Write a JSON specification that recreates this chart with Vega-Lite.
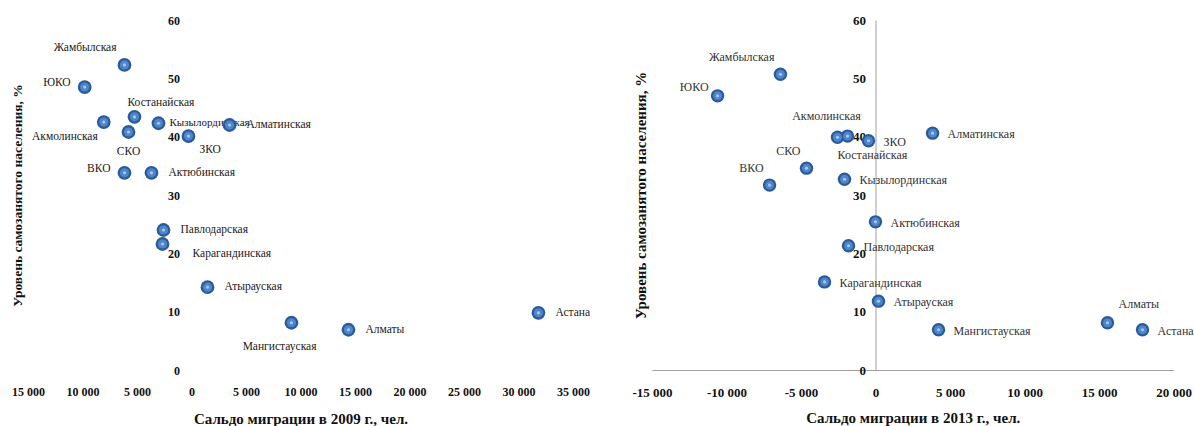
{
  "$schema": "https://vega.github.io/schema/vega-lite/v6.json",
  "padding": {"left": 10, "top": 14, "right": 0, "bottom": 0},
  "background": "white",
  "spacing": 79,
  "bounds": "flush",
  "config": {
    "font": "Liberation Serif",
    "view": {"stroke": null},
    "axis": {"labelFont": "Liberation Serif", "titleFont": "Liberation Serif", "grid": false, "ticks": false, "labelFlush": false, "labelColor": "#111", "titleColor": "#111"},
    "text": {"font": "Liberation Serif", "fontSize": 12, "color": "#1a1a1a"}
  },
  "datasets": {
    "d2009": [
      {"region": "Жамбылская", "x": -6150, "y": 52.3},
      {"region": "ЮКО", "x": -9800, "y": 48.5},
      {"region": "Акмолинская", "x": -8050, "y": 42.5},
      {"region": "Костанайская", "x": -5230, "y": 43.4},
      {"region": "СКО", "x": -5780, "y": 40.8},
      {"region": "Кызылординская", "x": -3030, "y": 42.3},
      {"region": "ЗКО", "x": -280, "y": 40.1},
      {"region": "Алматинская", "x": 3490, "y": 42.0},
      {"region": "ВКО", "x": -6150, "y": 33.8},
      {"region": "Актюбинская", "x": -3670, "y": 33.8},
      {"region": "Павлодарская", "x": -2570, "y": 24.0},
      {"region": "Карагандинская", "x": -2660, "y": 21.6},
      {"region": "Атырауская", "x": 1470, "y": 14.2},
      {"region": "Мангистауская", "x": 9170, "y": 8.1},
      {"region": "Алматы", "x": 14400, "y": 6.9},
      {"region": "Астана", "x": 31830, "y": 9.8}
    ],
    "d2013": [
      {"region": "Жамбылская", "x": -6380, "y": 50.7},
      {"region": "ЮКО", "x": -10600, "y": 47.0},
      {"region": "Акмолинская", "x": -2550, "y": 39.9},
      {"region": "Костанайская", "x": -1880, "y": 40.1},
      {"region": "ЗКО", "x": -470, "y": 39.3},
      {"region": "СКО", "x": -4630, "y": 34.6},
      {"region": "ВКО", "x": -7110, "y": 31.7},
      {"region": "Кызылординская", "x": -2080, "y": 32.7},
      {"region": "Актюбинская", "x": 0, "y": 25.4},
      {"region": "Павлодарская", "x": -1810, "y": 21.3},
      {"region": "Карагандинская", "x": -3420, "y": 15.1},
      {"region": "Атырауская", "x": 200, "y": 11.8},
      {"region": "Алматинская", "x": 3830, "y": 40.6},
      {"region": "Мангистауская", "x": 4230, "y": 6.9},
      {"region": "Алматы", "x": 15570, "y": 8.1},
      {"region": "Астана", "x": 17920, "y": 6.9}
    ]
  },
  "hconcat": [
    {
      "width": 545,
      "height": 350,
      "data": {"name": "d2009"},
      "encoding": {
        "x": {"field": "x", "type": "quantitative", "scale": {"domain": [-15000, 35000], "nice": false, "zero": false},
          "axis": {"values": [-15000, -10000, -5000, 0, 5000, 10000, 15000, 20000, 25000, 30000, 35000], "domain": false, "labelFontSize": 12, "labelFontWeight": "bold", "labelPadding": 16, "labelExpr": "replace(format(abs(datum.value), ',d'), ',', ' ')", "title": "Сальдо миграции в 2009 г., чел.", "titleFontSize": 15, "titleFontWeight": "bold", "titlePadding": 14}},
        "y": {"field": "y", "type": "quantitative", "scale": {"domain": [0, 60], "nice": false},
          "axis": {"values": [0, 10, 20, 30, 40, 50, 60], "domain": false, "offset": -163.5, "labelPadding": 12, "labelFontSize": 12, "labelFontWeight": "bold", "title": "Уровень самозанятого населения, %", "titleFontSize": 13.5, "titleFontWeight": "bold", "titleX": -174, "titleY": 175, "titleAngle": -90, "titleAlign": "center", "titleBaseline": "middle"}}
      },
      "layer": [
        {"transform": [{"filter": {"field": "region", "oneOf": ["Алматинская", "Актюбинская", "Павлодарская", "Атырауская", "Алматы", "Астана"]}}],
          "mark": {"type": "text", "align": "left", "dx": 17, "fontSize": 11.5}, "encoding": {"text": {"field": "region"}}},
        {"transform": [{"filter": {"field": "region", "oneOf": ["Кызылординская"]}}],
          "mark": {"type": "text", "align": "left", "dx": 11, "fontSize": 11}, "encoding": {"text": {"field": "region"}}},
        {"transform": [{"filter": {"field": "region", "oneOf": ["Жамбылская"]}}],
          "mark": {"type": "text", "align": "right", "dx": -8, "dy": -17, "fontSize": 11.5}, "encoding": {"text": {"field": "region"}}},
        {"transform": [{"filter": {"field": "region", "oneOf": ["ЮКО", "ВКО"]}}],
          "mark": {"type": "text", "align": "right", "dx": -14, "dy": -4, "fontSize": 11.5}, "encoding": {"text": {"field": "region"}}},
        {"transform": [{"filter": {"field": "region", "oneOf": ["Акмолинская"]}}],
          "mark": {"type": "text", "align": "right", "dx": -6, "dy": 15, "fontSize": 11.5}, "encoding": {"text": {"field": "region"}}},
        {"transform": [{"filter": {"field": "region", "oneOf": ["Костанайская"]}}],
          "mark": {"type": "text", "align": "left", "dx": -7, "dy": -14, "fontSize": 11.5}, "encoding": {"text": {"field": "region"}}},
        {"transform": [{"filter": {"field": "region", "oneOf": ["СКО"]}}],
          "mark": {"type": "text", "align": "center", "dy": 20, "fontSize": 11.5}, "encoding": {"text": {"field": "region"}}},
        {"transform": [{"filter": {"field": "region", "oneOf": ["Мангистауская"]}}],
          "mark": {"type": "text", "align": "right", "dx": 25, "dy": 24, "fontSize": 11.5}, "encoding": {"text": {"field": "region"}}},
        {"transform": [{"filter": {"field": "region", "oneOf": ["ЗКО"]}}],
          "mark": {"type": "text", "align": "left", "dx": 11, "dy": 14, "fontSize": 11.5}, "encoding": {"text": {"field": "region"}}},
        {"transform": [{"filter": {"field": "region", "oneOf": ["Карагандинская"]}}],
          "mark": {"type": "text", "align": "left", "dx": 30, "dy": 10, "fontSize": 11.5}, "encoding": {"text": {"field": "region"}}},
        {"mark": {"type": "circle", "size": 190, "color": "#2b5a98", "opacity": 1}},
        {"mark": {"type": "circle", "size": 85, "color": "#4f86cb", "opacity": 1}},
        {"mark": {"type": "circle", "size": 10, "color": "#a9c8ee", "opacity": 1}}
      ]
    },
    {
      "width": 521.5,
      "height": 350,
      "data": {"name": "d2013"},
      "encoding": {
        "x": {"field": "x", "type": "quantitative", "scale": {"domain": [-15000, 20000], "nice": false, "zero": false},
          "axis": {"values": [-15000, -10000, -5000, 0, 5000, 10000, 15000, 20000], "domain": true, "domainColor": "#a0a0a0", "labelFontSize": 13, "labelFontWeight": "bold", "labelPadding": 16, "labelExpr": "(datum.value < 0 ? '-' : '') + replace(format(abs(datum.value), ',d'), ',', ' ')", "title": "Сальдо миграции в 2013 г., чел.", "titleFontSize": 15, "titleFontWeight": "bold", "titlePadding": 11}},
        "y": {"field": "y", "type": "quantitative", "scale": {"domain": [0, 60], "nice": false},
          "axis": {"values": [0, 10, 20, 30, 40, 50, 60], "domain": true, "domainColor": "#a0a0a0", "offset": -223.5, "labelPadding": 10, "labelFontSize": 13, "labelFontWeight": "bold", "title": "Уровень самозанятого населения, %", "titleFontSize": 15, "titleFontWeight": "bold", "titleX": -235, "titleY": 175, "titleAngle": -90, "titleAlign": "center", "titleBaseline": "middle"}}
      },
      "layer": [
        {"transform": [{"filter": {"field": "region", "oneOf": ["ЗКО", "Кызылординская", "Актюбинская", "Павлодарская", "Карагандинская", "Атырауская", "Алматинская", "Мангистауская", "Астана"]}}],
          "mark": {"type": "text", "align": "left", "dx": 15, "dy": 1, "color": "#333"}, "encoding": {"text": {"field": "region"}}},
        {"transform": [{"filter": {"field": "region", "oneOf": ["Жамбылская", "СКО", "ВКО"]}}],
          "mark": {"type": "text", "align": "right", "dx": -6, "dy": -17, "color": "#333"}, "encoding": {"text": {"field": "region"}}},
        {"transform": [{"filter": {"field": "region", "oneOf": ["ЮКО"]}}],
          "mark": {"type": "text", "align": "right", "dx": -9, "dy": -9, "color": "#333"}, "encoding": {"text": {"field": "region"}}},
        {"transform": [{"filter": {"field": "region", "oneOf": ["Акмолинская"]}}],
          "mark": {"type": "text", "align": "center", "dx": -11, "dy": -21, "color": "#333"}, "encoding": {"text": {"field": "region"}}},
        {"transform": [{"filter": {"field": "region", "oneOf": ["Костанайская"]}}],
          "mark": {"type": "text", "align": "left", "dx": -10, "dy": 19, "color": "#333"}, "encoding": {"text": {"field": "region"}}},
        {"transform": [{"filter": {"field": "region", "oneOf": ["Алматы"]}}],
          "mark": {"type": "text", "align": "left", "dx": 11, "dy": -19, "color": "#333"}, "encoding": {"text": {"field": "region"}}},
        {"mark": {"type": "circle", "size": 180, "color": "#2b5a98", "opacity": 1}},
        {"mark": {"type": "circle", "size": 80, "color": "#4f86cb", "opacity": 1}},
        {"mark": {"type": "circle", "size": 10, "color": "#a9c8ee", "opacity": 1}}
      ]
    }
  ]
}
